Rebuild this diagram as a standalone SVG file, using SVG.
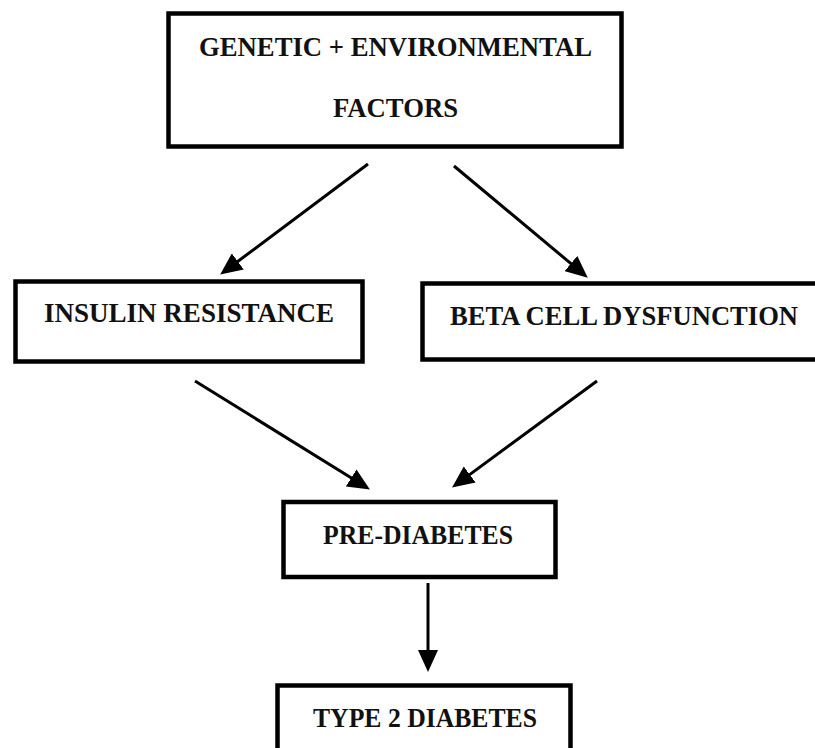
<svg xmlns="http://www.w3.org/2000/svg" width="815" height="748" viewBox="0 0 815 748">
  <style>
    .box { fill: #ffffff; stroke: #000000; stroke-width: 4.5; }
    .lbl { font-family: "Liberation Serif", "Times New Roman", serif; font-weight: bold; font-size: 27px; fill: #111111; }
    .conn { stroke: #000000; stroke-width: 3; fill: none; marker-end: url(#arrow); }
  </style>
  <defs>
    <marker id="arrow" markerUnits="userSpaceOnUse" markerWidth="22" markerHeight="20" refX="6" refY="10" orient="auto">
      <path d="M0,0 L22,10 L0,20 z" fill="#000000"/>
    </marker>
  </defs>
  <rect x="0" y="0" width="815" height="748" fill="#ffffff"/>

  <g id="node-factors">
    <rect class="box" x="168.5" y="13.5" width="453" height="133"/>
    <text class="lbl" x="199" y="56" textLength="393" lengthAdjust="spacingAndGlyphs">GENETIC + ENVIRONMENTAL</text>
    <text class="lbl" x="333" y="117" textLength="125" lengthAdjust="spacingAndGlyphs">FACTORS</text>
  </g>

  <g id="node-insulin">
    <rect class="box" x="15.5" y="281.5" width="347" height="80"/>
    <text class="lbl" x="44" y="322" textLength="290" lengthAdjust="spacingAndGlyphs">INSULIN RESISTANCE</text>
  </g>

  <g id="node-beta">
    <rect class="box" x="422.5" y="283.5" width="400" height="76"/>
    <text class="lbl" x="450" y="325" textLength="348" lengthAdjust="spacingAndGlyphs">BETA CELL DYSFUNCTION</text>
  </g>

  <g id="node-prediabetes">
    <rect class="box" x="283.5" y="502" width="272" height="75"/>
    <text class="lbl" x="323" y="544" textLength="190" lengthAdjust="spacingAndGlyphs">PRE-DIABETES</text>
  </g>

  <g id="node-t2d">
    <rect class="box" x="277.5" y="685.5" width="293" height="80"/>
    <text class="lbl" x="313" y="727" textLength="224" lengthAdjust="spacingAndGlyphs">TYPE 2 DIABETES</text>
  </g>

  <g id="connectors">
    <line class="conn" x1="368" y1="164" x2="233" y2="265"/>
    <line class="conn" x1="454" y1="166" x2="575.5" y2="267.4"/>
    <line class="conn" x1="195" y1="381" x2="356.3" y2="481.1"/>
    <line class="conn" x1="597" y1="381" x2="464.9" y2="478.1"/>
    <line class="conn" x1="428" y1="583" x2="428" y2="656"/>
  </g>
</svg>
